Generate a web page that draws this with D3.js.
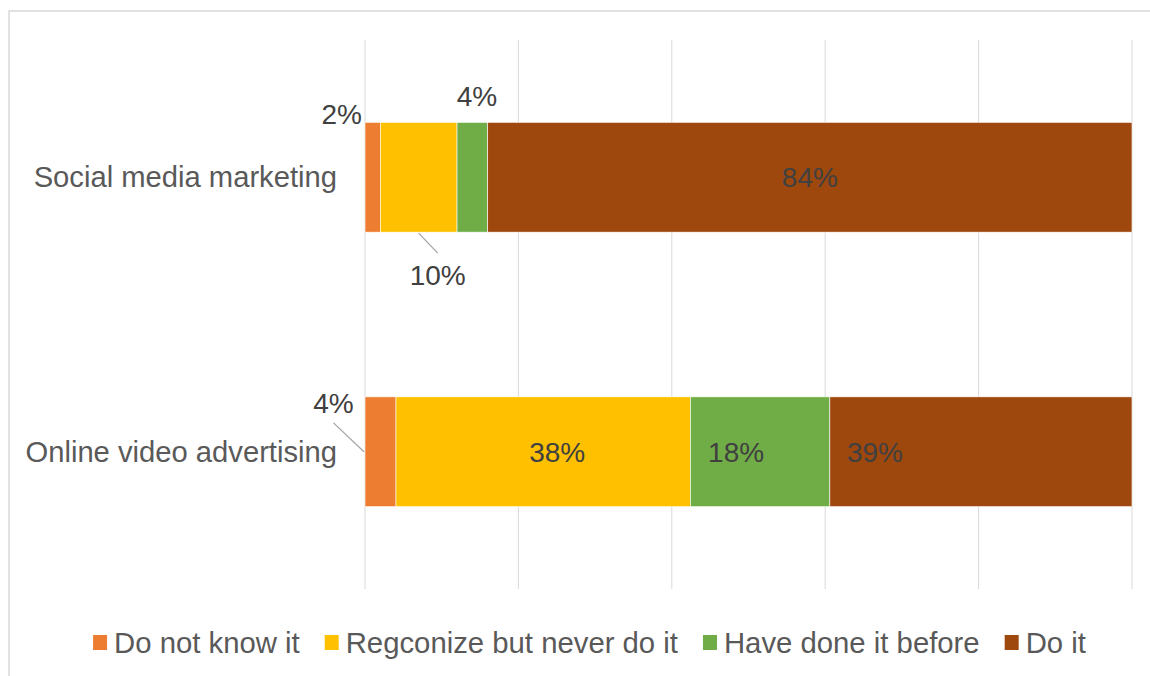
<!DOCTYPE html>
<html>
<head>
<meta charset="utf-8">
<script src="https://cdn.jsdelivr.net/npm/d3@7"></script>
<style>
  html, body { margin: 0; padding: 0; background: #fff; }
  svg { display: block; }
  text { font-family: "Liberation Sans", Arial, sans-serif; }
</style>
</head>
<body>
<svg id="chart" width="1150" height="676"></svg>
<script>
// Survey results: awareness / usage of each marketing channel
const categories = ["Social media marketing", "Online video advertising"];
const seriesNames = ["Do not know it", "Regconize but never do it", "Have done it before", "Do it"];
const doNotKnowIt = [2, 4];
const recognizeNeverDo = [10, 38];
const haveDoneBefore = [4, 18];
const doIt = [84, 39];
const xTicks = [0, 0.2, 0.4, 0.6, 0.8, 1];

const colors = ["#ED7D31", "#FFC000", "#70AD47", "#9E480E"];
const seriesValues = [doNotKnowIt, recognizeNeverDo, haveDoneBefore, doIt];
const keys = ["s0", "s1", "s2", "s3"];

const rows = categories.map((c, i) => {
  const r = { category: c };
  keys.forEach((k, j) => { r[k] = seriesValues[j][i]; });
  return r;
});

const svg = d3.select("#chart");

// Outer chart frame
svg.append("rect")
  .attr("x", 9).attr("y", 11)
  .attr("width", 1170).attr("height", 700)
  .attr("fill", "#fff")
  .attr("stroke", "#d9d9d9").attr("stroke-width", 1.5);

const plot = { left: 365, right: 1132, top: 40, bottom: 589 };

const x = d3.scaleLinear().domain([0, 1]).range([plot.left, plot.right]);
const y = d3.scaleBand().domain(categories).range([plot.top, plot.bottom]).paddingInner(0.6).paddingOuter(0.3);

// Vertical gridlines
svg.append("g").selectAll("line").data(xTicks).join("line")
  .attr("x1", d => x(d)).attr("x2", d => x(d))
  .attr("y1", plot.top).attr("y2", plot.bottom)
  .attr("stroke", "#d9d9d9").attr("stroke-width", 1);

// Category labels
svg.append("g").selectAll("text").data(categories).join("text")
  .attr("x", 337)
  .attr("y", d => y(d) + y.bandwidth() / 2 + 10)
  .attr("text-anchor", "end")
  .attr("fill", "#595959")
  .style("font-size", "29.2px")
  .text(d => d);

// 100% stacked bars
const stacked = d3.stack().keys(keys).offset(d3.stackOffsetExpand)(rows);

const layers = svg.append("g").selectAll("g").data(stacked).join("g")
  .attr("fill", (d, i) => colors[i]);

layers.selectAll("rect").data(d => d).join("rect")
  .attr("x", d => x(d[0]))
  .attr("y", d => y(d.data.category))
  .attr("width", d => x(d[1]) - x(d[0]))
  .attr("height", y.bandwidth())
  .attr("stroke", "#ffffff").attr("stroke-width", 0.6);

// Data label placement relative to each segment
const labelPlacement = [
  [ { mode: "cornerLeft", dx: -3, dy: 2 },
    { mode: "below", dx: 19, dy: 53 },
    { mode: "above", dx: 4.5, dy: -16 },
    { mode: "center", dx: 0 } ],
  [ { mode: "leftLeader", dx: -47, dy: 16 },
    { mode: "center", dx: 14 },
    { mode: "center", dx: -24 },
    { mode: "center", dx: -106 } ]
];

const labelGroup = svg.append("g").attr("fill", "#404040").style("font-size", "28px");
const leaderGroup = svg.append("g").attr("stroke", "#a6a6a6").attr("stroke-width", 1.3);

stacked.forEach((layer, si) => {
  layer.forEach((seg, ci) => {
    const value = seriesValues[si][ci];
    const p = labelPlacement[ci][si];
    const x0 = x(seg[0]), x1 = x(seg[1]);
    const cx = (x0 + x1) / 2;
    const top = y(seg.data.category);
    const bottom = top + y.bandwidth();
    const mid = top + y.bandwidth() / 2;
    let tx, ty, anchor = "middle";
    if (p.mode === "center") {
      tx = cx + p.dx; ty = mid + 10;
    } else if (p.mode === "above") {
      tx = cx + p.dx; ty = top + p.dy;
    } else if (p.mode === "below") {
      tx = cx + p.dx; ty = bottom + p.dy;
      leaderGroup.append("line")
        .attr("x1", cx).attr("y1", bottom + 1)
        .attr("x2", cx + p.dx).attr("y2", bottom + 21);
    } else if (p.mode === "cornerLeft") {
      tx = x0 + p.dx; ty = top + p.dy; anchor = "end";
    } else if (p.mode === "leftLeader") {
      tx = cx + p.dx; ty = top + p.dy;
      leaderGroup.append("line")
        .attr("x1", tx).attr("y1", ty + 10)
        .attr("x2", x0 - 1).attr("y2", mid);
    }
    labelGroup.append("text")
      .attr("x", tx).attr("y", ty)
      .attr("text-anchor", anchor)
      .text(value + "%");
  });
});

// Legend, centred beneath the plot
const legend = svg.append("g").style("font-size", "29.3px").attr("fill", "#595959");
const items = legend.selectAll("g").data(seriesNames).join("g");
items.append("rect")
  .attr("width", 14).attr("height", 15)
  .attr("y", 635)
  .attr("fill", (d, i) => colors[i]);
items.append("text")
  .attr("x", 21).attr("y", 653)
  .text(d => d);

let cursor = 0;
const offsets = [];
items.each(function () {
  offsets.push(cursor);
  const w = d3.select(this).select("text").node().getComputedTextLength();
  cursor += 21 + w + 25;
});
const totalWidth = cursor - 25;
const legendStart = 589.5 - totalWidth / 2;
items.attr("transform", (d, i) => `translate(${legendStart + offsets[i]},0)`);
</script>
</body>
</html>
